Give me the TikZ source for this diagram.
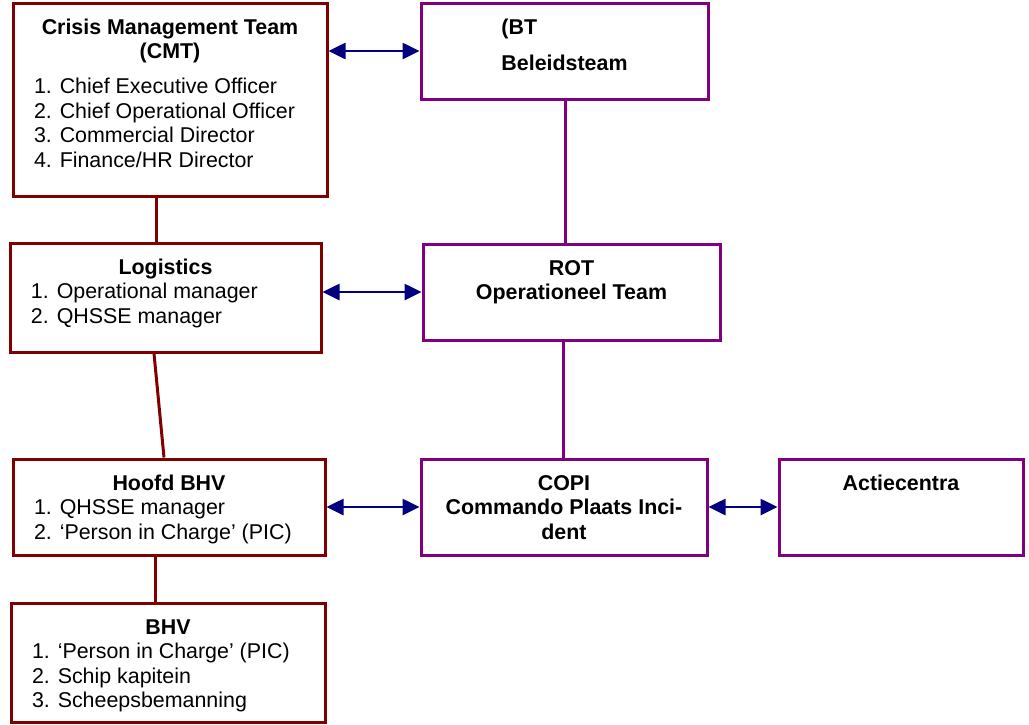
\documentclass[tikz,border=0pt]{standalone}
\usepackage{fontspec}
\setmainfont{Liberation Sans}
\usetikzlibrary{arrows.meta}
\definecolor{cmtred}{RGB}{128,0,0}
\definecolor{btpurple}{RGB}{128,0,128}
\definecolor{arrownavy}{RGB}{0,0,128}
\newcommand{\boxtitle}[1]{{\centering\bfseries\rule{0pt}{15.5pt}#1\par}}
\newcommand{\boxlist}[1]{{\leftskip=10.5pt\noindent#1\par}}

\begin{document}
\begin{tikzpicture}[x=0.5pt, y=-0.5pt, font=\fontsize{10.7pt}{12.25pt}\selectfont,
  box/.style 2 args={draw, line width=1.5pt, inner sep=0pt,
    execute at begin node={\begin{minipage}[t][#2][t]{#1}},
    execute at end node={\end{minipage}}},
  redbox/.style 2 args={box={#1}{#2}, draw=cmtred},
  purplebox/.style 2 args={box={#1}{#2}, draw=btpurple},
  twoway/.style={arrownavy, line width=1.3pt,
    {Triangle[length=8.5pt,width=8pt]}-{Triangle[length=8.5pt,width=8pt]}},
  redline/.style={cmtred, line width=1.5pt},
  purpleline/.style={btpurple, line width=1.5pt}]
  \useasboundingbox (0,0) rectangle (1029,724);
  % left column
  \node[redbox={157pt}{96.5pt}] (cmt) at (170,99.5) {\boxtitle{Crisis Management Team\\(CMT)}\vspace{5.25pt}%
    \boxlist{1. Chief Executive Officer\\2. Chief Operational Officer\\3. Commercial Director\\4. Finance/HR Director}};
  \node[redbox={155.5pt}{54.5pt}] (log) at (165.5,297.5) {\boxtitle{Logistics}%
    \boxlist{1. Operational manager\\2. QHSSE manager}};
  \node[redbox={156pt}{48pt}] (hoofd) at (169,507) {\boxtitle{Hoofd BHV}%
    \boxlist{1. QHSSE manager\\2. ‘Person in Charge’ (PIC)}};
  \node[redbox={157pt}{59.5pt}] (bhv) at (168,662.5) {\boxtitle{BHV}%
    \boxlist{1. ‘Person in Charge’ (PIC)\\2. Schip kapitein\\3. Scheepsbemanning}};
  % right columns
  \node[purplebox={143.5pt}{48pt}] (bt) at (564.5,51) {\boxtitle{\rlap{(BT}\phantom{Beleidsteam}\\[5.75pt]Beleidsteam}};
  \node[purplebox={148.5pt}{48pt}] (rot) at (571.5,292) {\boxtitle{ROT\\Operationeel Team}};
  \node[purplebox={143pt}{48pt}] (copi) at (564,507) {\boxtitle{COPI\\Commando Plaats Inci-\\dent}};
  \node[purplebox={122pt}{48pt}] (act) at (901,507) {\boxtitle{Actiecentra}};
  % hierarchy lines
  \draw[redline] ([xshift=-7pt]cmt.south) -- ([xshift=-4.75pt]log.north);
  \draw[redline] ([xshift=-5.75pt]log.south) -- ([xshift=-2.5pt]hoofd.north);
  \draw[redline] ([xshift=-7pt]hoofd.south) -- ([xshift=-6.5pt]bhv.north);
  \draw[purpleline] ([xshift=0.25pt]bt.south) -- ([xshift=-3.25pt]rot.north);
  \draw[purpleline] ([xshift=-4.25pt]rot.south) -- ([xshift=-0.5pt]copi.north);
  % links
  \draw[twoway] (cmt.east |- bt.west) -- (bt.west);
  \draw[twoway] (log.east |- rot.west) -- (rot.west);
  \draw[twoway] (hoofd.east) -- (copi.west);
  \draw[twoway] (copi.east) -- (act.west);
\end{tikzpicture}
\end{document}
